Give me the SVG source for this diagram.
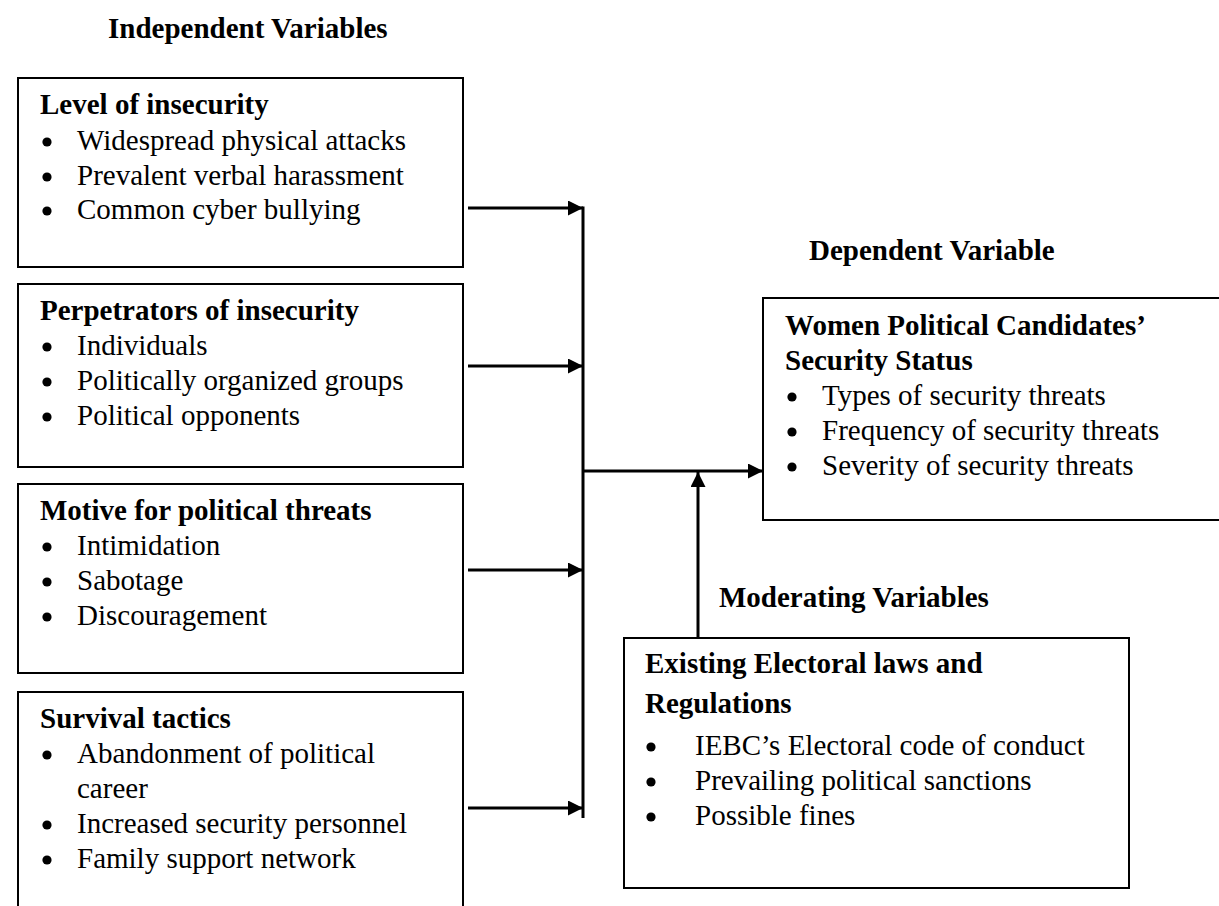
<svg xmlns="http://www.w3.org/2000/svg" width="1219" height="906" viewBox="0 0 1219 906">
<style>
text{font-family:"Liberation Serif","Times New Roman",serif;font-size:29px;fill:#000}
.b{font-weight:bold}
.box{fill:#fff;stroke:#000;stroke-width:2}
.con{fill:none;stroke:#000;stroke-width:3}
</style>
<defs>
<marker id="ah" viewBox="0 0 15 15" refX="15" refY="7.5" markerWidth="15" markerHeight="15" markerUnits="userSpaceOnUse" orient="auto"><path d="M0,0 L15,7.5 L0,15 z" fill="#000"/></marker>
<circle id="dot" r="4.6" fill="#000"/>
</defs>
<rect width="1219" height="906" fill="#fff"/>
<text class="b" x="108" y="38">Independent Variables</text>
<text class="b" x="809" y="260">Dependent Variable</text>
<text class="b" x="719" y="607">Moderating Variables</text>

<g id="level">
<rect class="box" x="18" y="78" width="445" height="189"/>
<text class="b" x="40" y="114">Level of insecurity</text>
<use href="#dot" x="47" y="142"/><text x="77" y="150">Widespread physical attacks</text>
<use href="#dot" x="47" y="177"/><text x="77" y="185">Prevalent verbal harassment</text>
<use href="#dot" x="47" y="211"/><text x="77" y="219">Common cyber bullying</text>
</g>
<g id="perpetrators">
<rect class="box" x="18" y="284" width="445" height="183"/>
<text class="b" x="40" y="320">Perpetrators of insecurity</text>
<use href="#dot" x="47" y="347"/><text x="77" y="355">Individuals</text>
<use href="#dot" x="47" y="382"/><text x="77" y="390">Politically organized groups</text>
<use href="#dot" x="47" y="417"/><text x="77" y="425">Political opponents</text>
</g>
<g id="motive">
<rect class="box" x="18" y="484" width="445" height="189"/>
<text class="b" x="40" y="520">Motive for political threats</text>
<use href="#dot" x="47" y="547"/><text x="77" y="555">Intimidation</text>
<use href="#dot" x="47" y="582"/><text x="77" y="590">Sabotage</text>
<use href="#dot" x="47" y="617"/><text x="77" y="625">Discouragement</text>
</g>
<g id="survival">
<rect class="box" x="18" y="692" width="445" height="230"/>
<text class="b" x="40" y="728">Survival tactics</text>
<use href="#dot" x="47" y="755"/><text x="77" y="763">Abandonment of political</text>
<text x="77" y="798">career</text>
<use href="#dot" x="47" y="825"/><text x="77" y="833">Increased security personnel</text>
<use href="#dot" x="47" y="860"/><text x="77" y="868">Family support network</text>
</g>
<g id="dependent">
<rect class="box" x="763" y="298" width="470" height="222"/>
<text class="b" x="785" y="335">Women Political Candidates’</text>
<text class="b" x="785" y="370">Security Status</text>
<use href="#dot" x="792" y="397"/><text x="822" y="405">Types of security threats</text>
<use href="#dot" x="792" y="432"/><text x="822" y="440">Frequency of security threats</text>
<use href="#dot" x="792" y="467"/><text x="822" y="475">Severity of security threats</text>
</g>
<g id="moderating">
<rect class="box" x="624" y="638" width="505" height="250"/>
<text class="b" x="645" y="673">Existing Electoral laws and</text>
<text class="b" x="645" y="713">Regulations</text>
<use href="#dot" x="651" y="747"/><text x="695" y="755">IEBC’s Electoral code of conduct</text>
<use href="#dot" x="651" y="782"/><text x="695" y="790">Prevailing political sanctions</text>
<use href="#dot" x="651" y="817"/><text x="695" y="825">Possible fines</text>
</g>
<g id="connectors">
<path class="con" d="M468,208 H583" marker-end="url(#ah)"/>
<path class="con" d="M468,366 H583" marker-end="url(#ah)"/>
<path class="con" d="M468,570 H583" marker-end="url(#ah)"/>
<path class="con" d="M468,808 H583" marker-end="url(#ah)"/>
<path class="con" d="M583,206.5 V818"/>
<path class="con" d="M583,471 H763" marker-end="url(#ah)"/>
<path class="con" d="M698,638 V472" marker-end="url(#ah)"/>
</g>
</svg>
